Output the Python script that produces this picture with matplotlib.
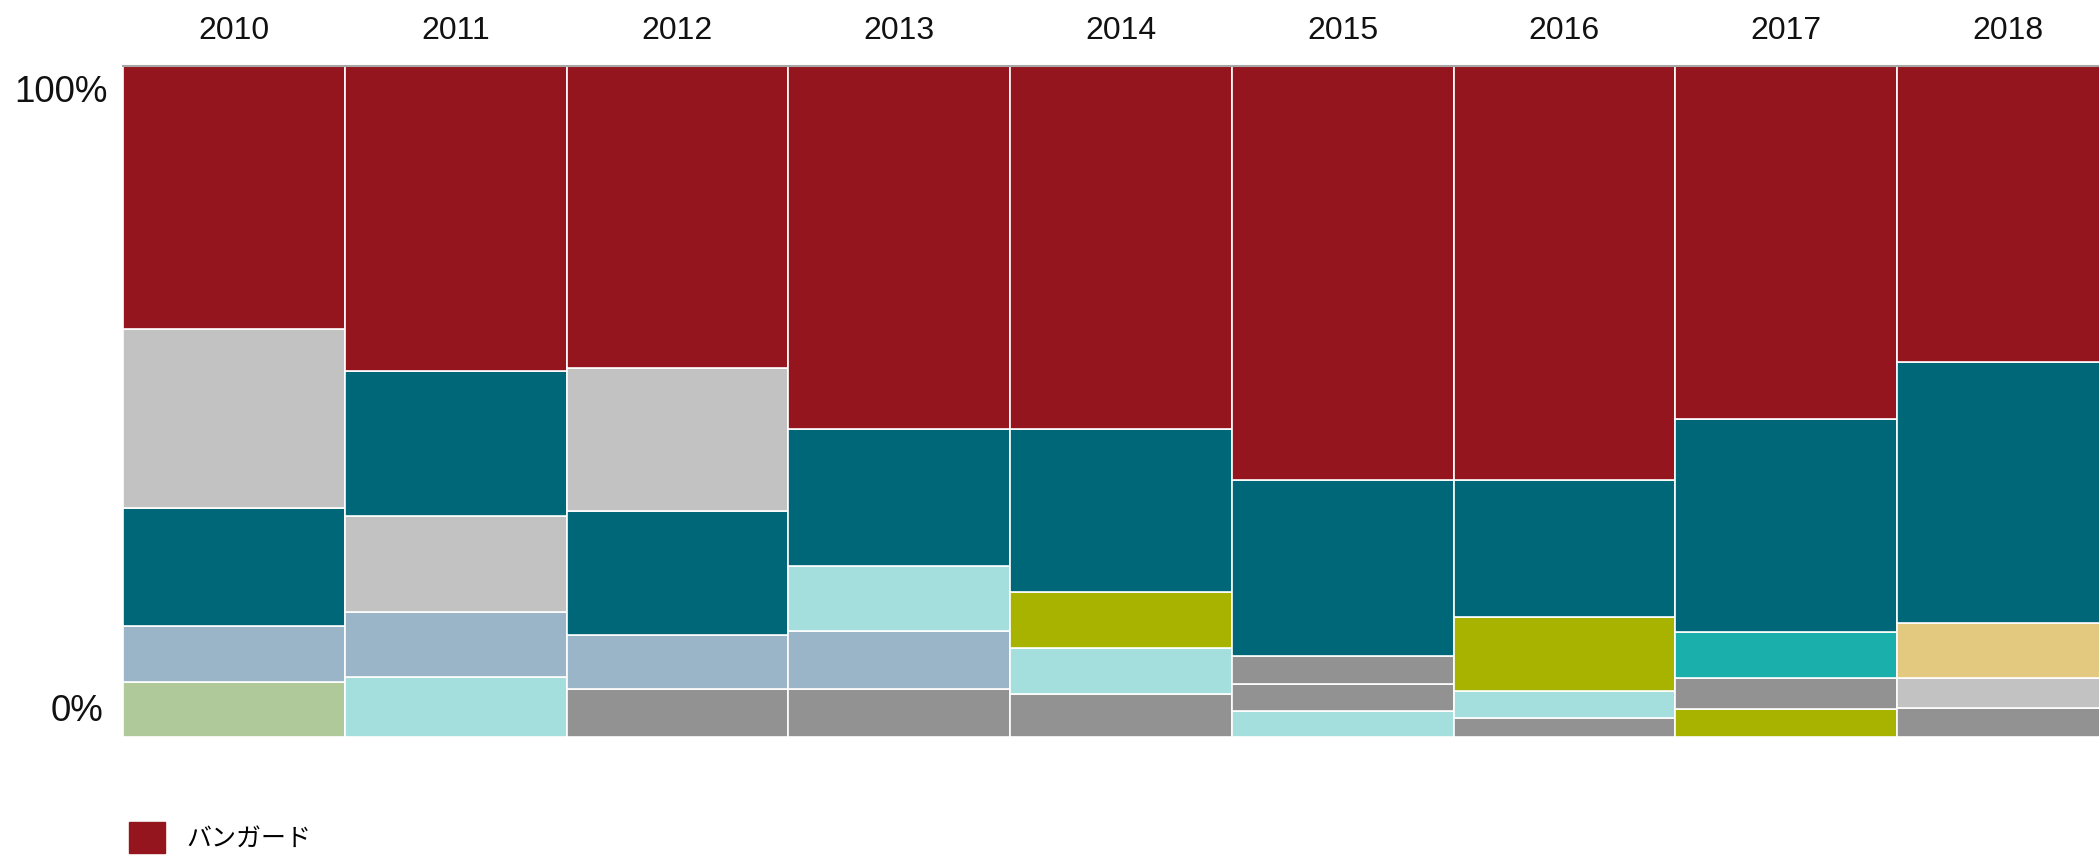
import matplotlib
matplotlib.use("Agg")
import matplotlib.pyplot as plt
from matplotlib.patches import Patch

plt.rcParams['font.family'] = ['Liberation Sans', 'Noto Sans CJK JP', 'DejaVu Sans']

# ── DATA ──────────────────────────────────────────────────────────────────────
YEARS = ["2010", "2011", "2012", "2013", "2014", "2015", "2016", "2017", "2018"]

# segment shares (%) per year, listed bottom -> top
SHARES = [
    [8.2, 8.3, 17.6, 26.7, 39.2],
    [8.9, 9.7, 14.3, 21.6, 45.5],
    [7.1, 8.1, 18.4, 21.4, 45.0],
    [7.1, 8.7, 9.6, 20.5, 54.1],
    [6.4, 6.8, 8.3, 24.4, 54.1],
    [3.9, 3.9, 4.3, 26.2, 61.7],
    [2.8, 4.0, 11.0, 20.4, 61.8],
    [4.2, 4.5, 6.9, 31.7, 52.7],
    [4.3, 4.5, 8.2, 38.9, 44.1],
]

# colour key of each segment, same order as SHARES
SEGMENTS = [
    ["green", "bluegray", "teal", "silver", "red"],
    ["cyan", "bluegray", "silver", "teal", "red"],
    ["gray", "bluegray", "teal", "silver", "red"],
    ["gray", "bluegray", "cyan", "teal", "red"],
    ["gray", "cyan", "olive", "teal", "red"],
    ["cyan", "gray", "gray", "teal", "red"],
    ["gray", "cyan", "olive", "teal", "red"],
    ["olive", "gray", "turquoise", "teal", "red"],
    ["gray", "silver", "sand", "teal", "red"],
]

LEGEND_LABEL = "バンガード"

COLORS = {
    "red":       "#95151E",
    "teal":      "#006778",
    "silver":    "#C2C2C2",
    "bluegray":  "#9AB4C8",
    "green":     "#B0C99B",
    "cyan":      "#A4DFDD",
    "gray":      "#929292",
    "olive":     "#A8B300",
    "turquoise": "#1AAFAB",
    "sand":      "#E3C97F",
}
# ─────────────────────────────────────────────────────────────────────────────

W, H = 2099, 856
fig = plt.figure(figsize=(W / 100, H / 100), dpi=100)

# plot area in pixels: x 123 -> 2099 (right side clipped), y 65.7 -> 736.7
left, top, bottom = 123, 65.7, 736.7
ax = fig.add_axes([left / W, (H - bottom) / H, (W - left) / W, (bottom - top) / H])

col_px = 221.75
for i, (vals, keys) in enumerate(zip(SHARES, SEGMENTS)):
    base = 0
    for v, k in zip(vals, keys):
        ax.bar(i, v, bottom=base, width=1, align="edge", color=COLORS[k],
               edgecolor="white", linewidth=1.2)
        base += v

ax.set_xlim(0, (W - left) / col_px)
ax.set_ylim(0, 100)
ax.set_xticks([])
ax.set_yticks([])
for s in ["left", "right", "bottom"]:
    ax.spines[s].set_visible(False)
ax.spines["top"].set_color("#A6A6A6")
ax.spines["top"].set_linewidth(1.5)

# year labels above columns
for i, y in enumerate(YEARS):
    ax.text(i + 0.5, 1.052, y, transform=ax.get_xaxis_transform(),
            ha="center", va="center", fontsize=23, color="#111111")

# y labels (sit just inside the 0 / 100 marks)
ytr = ax.get_yaxis_transform()
ax.text(-0.008, 96.0, "100%", transform=ytr, ha="right", va="center",
        fontsize=26.5, color="#111111")
ax.text(-0.010, 3.7, "0%", transform=ytr, ha="right", va="center",
        fontsize=26.5, color="#111111")

# legend (cut off by the bottom edge, as in the original)
fig.legend(handles=[Patch(color=COLORS["red"], label=LEGEND_LABEL)],
           loc="upper left", bbox_to_anchor=(129 / W, (H - 822) / H),
           frameon=False, borderpad=0, borderaxespad=0,
           handlelength=1.45, handleheight=1.5, handletextpad=0.85,
           prop={"family": ["Noto Sans CJK JP"], "size": 18})

fig.savefig("out.png", dpi=100)
